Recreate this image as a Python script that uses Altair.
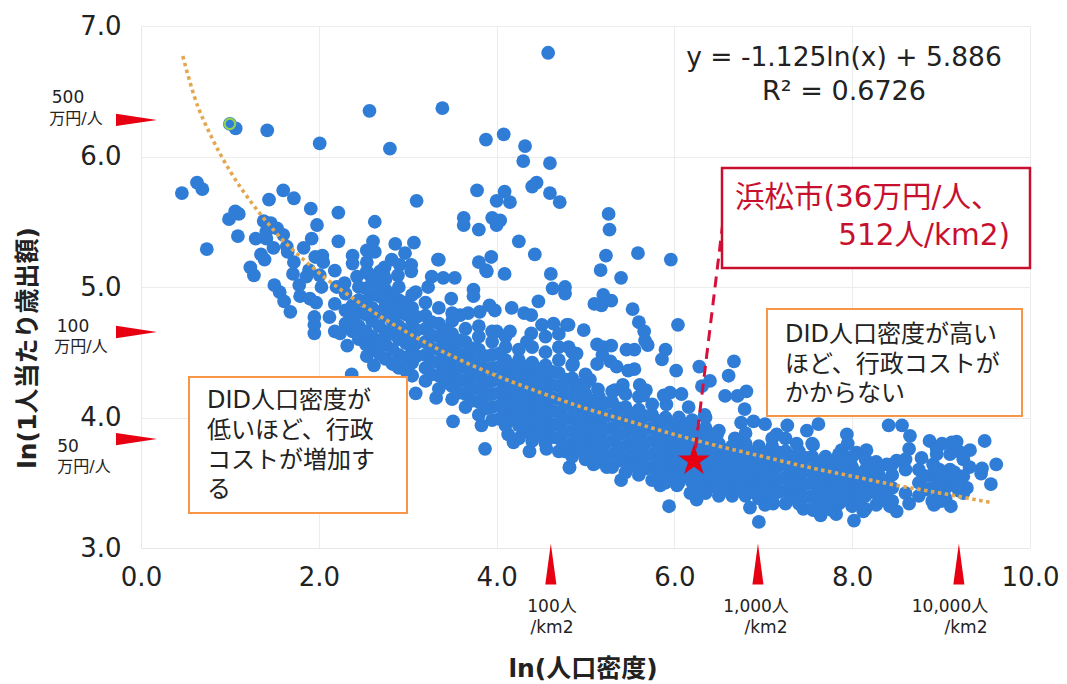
import altair as alt
import pandas as pd

BLUE = "#2F7DD6"
RED = "#E60012"
ORANGE = "#F79646"
FONT = "DejaVu Sans, 'Noto Sans CJK JP'"
NUM = "DejaVu Sans"

highlight = [(1.00, 6.25)]

upper_left = [
 (1.065,6.215),(1.42,6.20),(2.01,6.10),(2.57,6.35),(2.80,6.06),(3.39,6.37),(0.46,5.72),(0.63,5.80),(0.69,5.75),
 (1.44,5.67),(1.60,5.74),(1.72,5.68),(1.91,5.60),(2.22,5.57),(3.10,5.66),(2.63,5.50),(1.98,5.475),(1.06,5.58),
 (1.10,5.56),(0.99,5.52),(1.09,5.39),(0.74,5.29),(1.29,5.37),(1.38,5.505),(1.46,5.49),(1.53,5.45),(1.41,5.425),
 (1.41,5.37),(1.60,5.40),(1.49,5.30),(1.64,5.31),(1.65,5.27),(1.92,5.37),(1.83,5.30),(2.22,5.35),(2.86,5.33),
 (3.07,5.34),(2.97,5.26),(2.61,5.35),(2.54,5.28),(2.63,5.27),(2.38,5.24),(2.38,5.18),(2.54,5.19),(2.82,5.21),
 (3.34,5.21),(1.35,5.25),(1.39,5.21),(1.23,5.15),(1.27,5.09),(1.72,5.19),(1.71,5.10),(1.89,5.13),(1.96,5.23),
 (2.04,5.24),(2.05,5.19),(2.18,5.125),(2.43,5.08),(2.74,5.15),(2.54,5.12),(2.91,5.17),(3.04,5.17),(3.04,5.12),
 (3.27,5.08),(2.73,5.09),(2.89,5.09),(1.86,5.08),(2.01,5.09),
]

upper_mid = [
 (4.58,6.795),(3.88,6.13),(4.08,6.17),(4.32,6.08),(4.30,5.965),(4.60,5.95),(3.78,5.74),(4.09,5.73),(4.00,5.66),
 (4.15,5.65),(4.45,5.80),(4.40,5.77),(4.60,5.72),(4.71,5.65),(5.26,5.56),(5.27,5.44),(3.63,5.53),(3.63,5.475),
 (3.80,5.44),(3.95,5.53),(4.04,5.51),(4.00,5.475),(4.25,5.35),(4.43,5.25),(5.23,5.24),(5.59,5.26),(5.96,5.21),
 (5.17,5.13),(5.40,5.07),(3.35,5.21),(3.80,5.19),(3.94,5.23),(3.88,5.13),(4.09,5.10),(4.61,5.10),(3.40,5.07),(3.53,5.07),
]

left_edge = [
 (1.50,5.015),(1.56,4.96),(1.61,4.89),(1.68,4.81),(1.78,5.015),(1.79,4.93),(1.90,4.91),(1.97,4.88),(2.03,5.0),
 (1.95,4.77),(1.95,4.71),(1.95,4.645),(2.12,4.77),(2.18,4.87),(2.29,5.03),(2.20,5.0),(2.18,4.66),(2.24,4.645),
 (2.32,4.55),(2.37,4.33),(2.54,4.47),(2.62,4.40),(3.09,4.185),(3.32,4.15),(3.51,3.97),(3.83,3.94),(3.87,3.76),
 (4.13,3.87),(4.19,3.81),(4.37,3.74),(4.56,3.76),(4.77,3.74),(4.82,3.62),(2.56,5.10),(2.69,5.12),(3.89,5.12),
 (3.09,4.96),(3.23,5.0),(3.49,4.91),(3.74,4.98),(3.74,4.93),(4.63,4.99),(4.77,5.0),(4.77,4.95),(4.47,4.89),
 (4.17,4.84),(3.92,4.86),(3.98,4.82),(3.81,4.81),(3.68,4.80),(3.59,4.785),(4.31,4.80),(4.39,4.785),(4.51,4.71),
 (4.64,4.72),(4.79,4.71),(4.39,4.645),(4.34,4.58),(4.15,4.66),(4.00,4.66),
]

mid_scatter = [
 (5.20,4.94),(5.10,4.87),(5.18,4.86),(5.29,4.895),(5.53,4.83),(5.60,4.73),(5.66,4.66),(5.67,4.59),(5.70,4.555),
 (6.04,4.71),(4.81,4.71),(4.98,4.67),(5.13,4.56),(5.20,4.54),(5.29,4.55),(5.19,4.48),(5.13,4.41),(5.28,4.43),
 (5.35,4.39),(5.46,4.52),(5.55,4.52),(5.90,4.52),(5.86,4.445),(5.48,4.36),(5.55,4.37),(6.02,4.36),(6.28,4.39),
 (6.67,4.43),(6.61,4.32),(6.40,4.28),(6.31,4.24),(6.57,4.165),(6.71,4.165),(6.81,4.20),(6.79,4.065),(6.75,3.96),
 (6.16,4.08),(6.08,4.18),(5.95,4.19),(5.88,4.17),(5.91,4.10),(5.61,4.25),(5.68,4.21),(5.65,4.17),(5.42,4.25),
 (5.14,4.215),(5.33,4.21),(5.00,4.33),(5.05,4.29),(4.81,4.54),(4.90,4.49),(4.86,4.41),(6.34,4.02),(4.82,3.615),
 (5.40,3.52),(5.94,3.32),(6.25,3.37),(6.85,3.31),(6.95,3.20),(7.02,3.33),(5.84,3.48),(6.03,3.48),(6.18,3.42),
 (5.09,3.64),(5.24,3.62),(6.89,3.97),(7.02,3.95),(7.15,3.87),(6.68,3.84),(6.48,3.87),
]

right_edge = [
 (7.62,3.95),(7.27,3.94),(7.49,3.90),(8.41,3.94),(8.56,3.94),(8.65,3.86),(7.94,3.87),(8.87,3.82),(9.01,3.80),
 (9.12,3.81),(9.175,3.815),(9.49,3.82),(9.325,3.75),(9.62,3.64),(9.56,3.49),(9.45,3.57),(9.46,3.61),(9.29,3.46),
 (9.32,3.62),(9.10,3.60),(8.91,3.64),(8.78,3.69),(8.64,3.76),(8.50,3.67),(8.39,3.64),(8.27,3.66),(8.16,3.75),
 (8.05,3.73),(7.88,3.75),(7.95,3.80),(7.375,3.80),(7.56,3.79),(8.02,3.21),(7.82,3.26),(7.77,3.29),(7.645,3.25),
 (8.50,3.28),(8.64,3.34),(8.92,3.33),(9.11,3.32),(8.125,3.28),(8.27,3.33),(7.45,3.30),(7.11,3.34),(7.86,3.35),
 (8.425,3.32),(9.00,3.36),(7.56,3.29),
]

cloud_columns = [
 (2.30,[4.72,4.82,4.95]),(2.45,[4.60,4.70,4.80,4.90,5.00]),(2.60,[4.52,4.62,4.74,4.84,4.94,5.04]),
 (2.75,[4.45,4.56,4.66,4.78,4.88,4.98,5.06]),(2.90,[4.38,4.48,4.60,4.70,4.80,4.90,5.00]),
 (3.05,[4.32,4.42,4.52,4.62,4.74,4.84,4.94]),(3.20,[4.28,4.38,4.48,4.58,4.68,4.78,4.88]),
 (3.35,[4.22,4.32,4.42,4.52,4.62,4.72,4.84]),(3.50,[4.14,4.24,4.34,4.44,4.54,4.64,4.74,4.80]),
 (3.65,[4.08,4.18,4.28,4.38,4.48,4.58,4.68]),(3.80,[4.02,4.12,4.22,4.32,4.42,4.52,4.62,4.70]),
 (3.95,[3.98,4.08,4.18,4.28,4.38,4.48,4.58,4.66]),(4.10,[3.94,4.04,4.14,4.24,4.34,4.44,4.54,4.62]),
 (4.25,[3.84,3.94,4.04,4.14,4.24,4.34,4.44,4.52]),(4.40,[3.82,3.92,4.02,4.12,4.22,4.32,4.42,4.54]),
 (4.55,[3.80,3.90,4.00,4.10,4.20,4.30,4.40,4.50,4.62]),(4.70,[3.74,3.84,3.94,4.04,4.14,4.24,4.34,4.44,4.54,4.64]),
 (4.85,[3.70,3.80,3.90,4.00,4.10,4.20,4.30,4.40,4.50]),(5.00,[3.68,3.78,3.88,3.98,4.08,4.18,4.26]),
 (5.15,[3.66,3.76,3.86,3.96,4.06,4.16]),(5.30,[3.62,3.72,3.82,3.92,4.02,4.12,4.20]),
 (5.45,[3.58,3.68,3.78,3.88,3.98,4.08,4.18]),(5.60,[3.56,3.66,3.76,3.86,3.96,4.06,4.16]),
 (5.75,[3.52,3.62,3.72,3.82,3.92,4.02,4.10]),(5.90,[3.50,3.60,3.70,3.80,3.90,4.00]),
 (6.05,[3.50,3.60,3.70,3.80,3.90,4.00]),(6.20,[3.50,3.60,3.70,3.80,3.90,3.98]),
 (6.35,[3.42,3.52,3.62,3.72,3.82,3.92,4.00]),(6.50,[3.40,3.50,3.60,3.70,3.80,3.90]),
 (6.65,[3.40,3.50,3.60,3.70,3.78]),(6.80,[3.40,3.50,3.60,3.70,3.80,3.88]),(6.95,[3.38,3.48,3.58,3.68,3.78]),
 (7.10,[3.38,3.48,3.58,3.68,3.78,3.84]),(7.25,[3.34,3.44,3.54,3.64,3.74,3.84]),(7.40,[3.34,3.44,3.54,3.64,3.74]),
 (7.55,[3.30,3.40,3.50,3.60,3.70,3.80]),(7.70,[3.30,3.40,3.50,3.60,3.70]),(7.85,[3.34,3.44,3.54,3.64,3.72]),
 (8.00,[3.32,3.42,3.52,3.62,3.70]),(8.15,[3.30,3.40,3.50,3.60,3.68]),(8.30,[3.36,3.46,3.56,3.62]),
 (8.45,[3.36,3.46,3.56,3.64]),(8.60,[3.42,3.60,3.68]),(8.75,[3.40,3.50,3.60]),(8.90,[3.36,3.46,3.56]),
 (9.05,[3.38,3.46,3.54]),(9.20,[3.44,3.52,3.74]),(8.95,[3.72,3.76]),(9.10,[3.72]),
]

core_columns = [
 (2.38,[4.66,4.76,4.86]),(2.53,[4.56,4.66,4.79,4.89,4.99]),(2.68,[4.49,4.59,4.70,4.81,4.93,5.02]),
 (2.83,[4.41,4.52,4.64,4.74,4.84,4.94]),(2.98,[4.36,4.46,4.57,4.67,4.79,4.88]),
 (3.10,[4.47,4.57,4.67,4.77]),(3.27,[4.33,4.43,4.53,4.63,4.73]),(3.43,[4.27,4.37,4.47,4.57,4.67]),
 (3.58,[4.19,4.29,4.39,4.49,4.59]),(3.73,[4.13,4.23,4.33,4.43,4.53]),(3.88,[4.07,4.17,4.27,4.37,4.47]),
 (4.03,[3.99,4.09,4.19,4.29,4.39,4.49]),(4.18,[3.99,4.09,4.19,4.29,4.39]),(4.33,[3.89,3.99,4.09,4.19,4.29,4.39]),
 (4.48,[3.87,3.97,4.07,4.17,4.27,4.37]),(4.63,[3.85,3.95,4.05,4.15,4.25,4.35]),(4.78,[3.79,3.89,3.99,4.09,4.19,4.29]),
 (4.93,[3.75,3.85,3.95,4.05,4.15,4.25]),(5.08,[3.73,3.83,3.93,4.03,4.13]),(5.23,[3.71,3.81,3.91,4.01,4.11]),
 (5.38,[3.67,3.77,3.87,3.97,4.07]),(5.53,[3.63,3.73,3.83,3.93,4.03]),(5.68,[3.61,3.71,3.81,3.91,4.01]),
 (5.83,[3.57,3.67,3.77,3.87,3.97]),(5.98,[3.55,3.65,3.75,3.85,3.95]),(6.13,[3.55,3.65,3.75,3.85,3.95]),
 (6.28,[3.47,3.57,3.67,3.77,3.87]),(6.43,[3.47,3.57,3.67,3.77,3.87]),(6.58,[3.45,3.55,3.65,3.75]),
 (6.73,[3.45,3.55,3.65,3.75]),(6.88,[3.43,3.53,3.63,3.73]),(7.03,[3.43,3.53,3.63,3.73]),(7.18,[3.43,3.53,3.63,3.73]),
 (7.33,[3.39,3.49,3.59,3.69]),(7.48,[3.39,3.49,3.59,3.69]),(7.63,[3.35,3.45,3.55,3.65]),(7.78,[3.37,3.47,3.57,3.67]),
 (7.93,[3.37,3.47,3.57,3.67]),(8.08,[3.37,3.47,3.57]),(8.23,[3.43,3.53,3.63]),(8.38,[3.41,3.51]),
 (8.83,[3.45,3.55]),(8.98,[3.42,3.50,3.60]),(9.15,[3.48,3.58]),(9.25,[3.42,3.55,3.68]),
]

trend_x = [0.47,0.60,0.80,1.00,1.25,1.50,2.00,2.50,3.00,3.50,4.00,4.50,5.00,5.50,6.00,6.50,7.00,7.50,8.00,8.50,9.00,9.55]
trend_y = [6.77,6.46,6.14,5.89,5.64,5.43,5.11,4.86,4.65,4.47,4.32,4.19,4.07,3.97,3.87,3.78,3.70,3.62,3.55,3.48,3.42,3.35]

hamamatsu = [(6.22, 3.67)]
density_marks = [4.61, 6.94, 9.20]
spending_marks = [6.28, 4.655, 3.835]

pts = list(upper_left) + list(upper_mid) + list(left_edge) + list(mid_scatter) + list(right_edge) + list(highlight)
for cx, ys in cloud_columns + core_columns:
    pts += [(cx, v) for v in ys]
df = pd.DataFrame(pts, columns=["x", "y"])

xs = alt.Scale(domain=[0, 10], nice=False, zero=False)
ys = alt.Scale(domain=[3, 7], nice=False, zero=False)
X = alt.X("x:Q", scale=xs, title=None,
          axis=alt.Axis(values=[0, 2, 4, 6, 8, 10], format=".1f", labelFontSize=26, labelFont=NUM, labelColor="#222",
                        labelPadding=16, ticks=False, domainColor="#e8e8e8", gridColor="#ececec", labelFlush=False,
                        labelOverlap=False))
Y = alt.Y("y:Q", scale=ys, title=None,
          axis=alt.Axis(values=[3, 4, 5, 6, 7], format=".1f", labelFontSize=26, labelFont=NUM, labelColor="#222",
                        labelPadding=20, ticks=False, domainColor="#e8e8e8", gridColor="#ececec", labelFlush=False,
                        labelOverlap=False))

base = alt.Chart(df).mark_circle(size=190, color=BLUE, opacity=1).encode(x=X, y=Y)

ring = alt.Chart(pd.DataFrame(highlight, columns=["x", "y"])).mark_point(
    size=110, color="#92D050", strokeWidth=2.2, filled=False, opacity=1).encode(
    x=alt.X("x:Q", scale=xs), y=alt.Y("y:Q", scale=ys))

trend = alt.Chart(pd.DataFrame({"x": trend_x, "y": trend_y})).mark_line(
    color="#E3A84F", strokeWidth=3.6, strokeDash=[3.5, 3.5], interpolate="monotone").encode(
    x=alt.X("x:Q", scale=xs), y=alt.Y("y:Q", scale=ys))

one = alt.Data(values=[{"a": 1}])

def P(px, py):
    return dict(x=alt.value(px - 141), y=alt.value(py - 26))

def label(txt, px, py, size, color="#222", align="left", font=FONT, weight=400, angle=0):
    return alt.Chart(one).mark_text(align=align, baseline="middle", fontSize=size, font=font, color=color,
                                    fontWeight=weight, angle=angle).encode(text=alt.value(txt), **P(px, py))

def box(x0, y0, x1, y1, color, sw):
    return alt.Chart(one).mark_rect(fill="white", stroke=color, strokeWidth=sw).encode(
        x=alt.value(x0 - 141), x2=alt.value(x1 - 141), y=alt.value(y0 - 26), y2=alt.value(y1 - 26))

dash = alt.Chart(one).mark_rule(color="#D5103C", strokeWidth=3, strokeDash=[11, 7]).encode(
    x=alt.value(725 - 141), x2=alt.value(694 - 141), y=alt.value(205 - 26), y2=alt.value(460 - 26))

STAR = "M0,-1L0.22,-0.31L0.95,-0.31L0.36,0.12L0.59,0.81L0,0.38L-0.59,0.81L-0.36,0.12L-0.95,-0.31L-0.22,-0.31Z"
star = alt.Chart(pd.DataFrame(hamamatsu, columns=["x", "y"])).mark_point(
    shape=STAR, size=1100, color=RED, fill=RED, filled=True, opacity=1).encode(
    x=alt.X("x:Q", scale=xs), y=alt.Y("y:Q", scale=ys))

RIGHT_TRI = "M-1,-0.3L1,0L-1,0.3Z"
UP_TRI = "M-0.27,1L0,-1L0.27,1Z"
left_tris = alt.Chart(pd.DataFrame({"y": spending_marks})).mark_point(
    shape=RIGHT_TRI, size=1680, color=RED, fill=RED, filled=True, opacity=1).encode(
    x=alt.value(136.5 - 141), y=alt.Y("y:Q", scale=ys))
up_tris = alt.Chart(pd.DataFrame({"x": density_marks})).mark_point(
    shape=UP_TRI, size=1680, color=RED, fill=RED, filled=True, opacity=1).encode(
    x=alt.X("x:Q", scale=xs), y=alt.value(564 - 26))

layers = [base, ring, trend, dash,
          box(189, 377, 407, 513, ORANGE, 2), box(767, 309, 1022, 416, ORANGE, 2), box(722, 168, 1030, 268, "#C8102E", 2.5),
          star, left_tris, up_tris,
          label("y = -1.125ln(x) + 5.886", 844, 58, 26.5, align="center", font=NUM),
          label("R² = 0.6726", 844, 92, 27, align="center", font=NUM),
          label("浜松市(36万円/人、", 735, 198, 29.5, color="#C8102E"),
          label("512人/km2)", 1010, 236, 29.5, color="#C8102E", align="right"),
          label("DID人口密度が", 207, 401, 24), label("低いほど、行政", 207, 431, 24),
          label("コストが増加す", 207, 461, 24), label("る", 207, 490, 24),
          label("DID人口密度が高い", 785, 335, 24), label("ほど、行政コストが", 785, 365, 24), label("かからない", 785, 394, 24),
          label("500", 68, 98, 17, align="center"), label("万円/人", 76, 119, 16, align="center"),
          label("100", 73, 327, 17, align="center"), label("万円/人", 81, 347, 16, align="center"),
          label("50", 68, 447, 17, align="center"), label("万円/人", 84, 467, 16, align="center"),
          label("100人", 552, 607, 17, align="center"), label("/km2", 552, 628, 17, align="center"),
          label("1,000人", 756, 607, 17, align="center"), label("/km2", 766, 628, 17, align="center"),
          label("10,000人", 950, 607, 17, align="center"), label("/km2", 966, 628, 17, align="center"),
          label("ln(人口密度)", 583, 669, 25, align="center", weight=700),
          label("ln(1人当たり歳出額)", 28, 348, 25, align="center", weight=700, angle=270),
          ]

chart = alt.layer(*layers).properties(
    width=889, height=522,
    padding={"left": 133, "top": 18, "right": 29, "bottom": 136},
    autosize=alt.AutoSizeParams(type="none"),
    background="white",
).configure_view(stroke=None)

chart.save("out.html", embed_options={"renderer": "svg", "actions": False})
